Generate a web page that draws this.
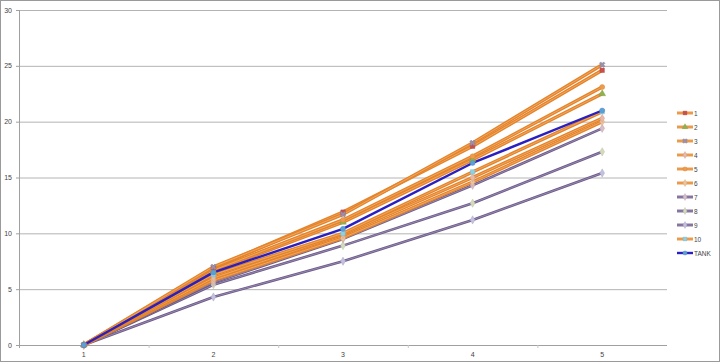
<!DOCTYPE html>
<html>
<head>
<meta charset="utf-8">
<script src="https://cdn.jsdelivr.net/npm/d3@7"></script>
<style>
  body { margin: 0; background: #fff; }
  text { font-family: 'Liberation Sans', Arial, sans-serif; }
</style>
</head>
<body>
<div id="chart"></div>
<script>
const categories = ['1', '2', '3', '4', '5']
const seriesNames = ['1', '2', '3', '4', '5', '6', '7', '8', '9', '10', 'TANK']
const s1 = [0, 6.9, 11.9, 17.8, 24.6]
const s2 = [0, 6.6, 11.0, 16.6, 22.5]
const s3 = [0, 7.0, 11.7, 18.1, 25.1]
const s4 = [0, 6.0, 9.9, 15.0, 20.3]
const s5 = [0, 6.7, 11.2, 16.9, 23.1]
const s6 = [0, 5.8, 9.6, 14.6, 20.0]
const s7 = [0, 5.6, 9.5, 14.3, 19.4]
const s8 = [0, 5.4, 8.9, 12.7, 17.3]
const s9 = [0, 4.3, 7.5, 11.2, 15.4]
const s10 = [0, 6.3, 10.0, 15.5, 20.9]
const tank = [0, 6.5, 10.4, 16.3, 21.0]
const yTicks = [0, 5, 10, 15, 20, 25, 30]

const allValues = [s1, s2, s3, s4, s5, s6, s7, s8, s9, s10, tank]

// look of each series: line colour, inner highlight, marker shape + colour
const orange = '#e5832a'
const orangeLight = '#f6c48a'
const purple = '#6b5a88'
const purpleLight = '#b7a9cc'
const styles = [
  { c: orange, hi: orangeLight, sym: d3.symbolSquare, mc: '#c9504a' },
  { c: orange, hi: orangeLight, sym: d3.symbolTriangle, mc: '#8fb24e' },
  { c: orange, hi: orangeLight, sym: d3.symbolCross, mc: '#9a90ad', x: true },
  { c: orange, hi: orangeLight, sym: d3.symbolDiamond, mc: '#e8b8a8' },
  { c: orange, hi: orangeLight, sym: d3.symbolCircle, mc: '#f09a4a' },
  { c: orange, hi: orangeLight, sym: d3.symbolDiamond, mc: '#eec49a' },
  { c: purple, hi: purpleLight, sym: d3.symbolDiamond, mc: '#d8bcc8' },
  { c: purple, hi: purpleLight, sym: d3.symbolDiamond, mc: '#d4dabc' },
  { c: purple, hi: purpleLight, sym: d3.symbolDiamond, mc: '#c4c0e0' },
  { c: orange, hi: orangeLight, sym: d3.symbolSquare, mc: '#8ad2e4' },
  { c: '#2a1fc0', hi: null, sym: d3.symbolCircle, mc: '#5aa0d8' }
]

const series = seriesNames.map((name, i) => ({
  name: name,
  values: allValues[i],
  style: styles[i]
}))

const width = 720
const height = 364

const svg = d3
  .select('#chart')
  .append('svg')
  .attr('width', width)
  .attr('height', height)

// outer frame
svg
  .append('rect')
  .attr('x', 0.5)
  .attr('y', 0.5)
  .attr('width', width - 1)
  .attr('height', height - 3)
  .attr('fill', 'none')
  .attr('stroke', '#9a9a9a')

const xScale = d3
  .scaleBand()
  .domain(categories)
  .range([19, 667])

const yScale = d3
  .scaleLinear()
  .domain([0, 30])
  .range([345, 10])

const cx = d => xScale(d) + xScale.bandwidth() / 2

// gridlines
svg
  .selectAll('.grid')
  .data(yTicks.filter(d => d > 0))
  .enter()
  .append('line')
  .attr('class', 'grid')
  .attr('x1', 19)
  .attr('x2', 667)
  .attr('y1', d => yScale(d) + 0.5)
  .attr('y2', d => yScale(d) + 0.5)
  .attr('stroke', '#b4b4b4')

// axes
svg
  .append('line')
  .attr('x1', 19.5)
  .attr('x2', 19.5)
  .attr('y1', yScale(30))
  .attr('y2', yScale(0) + 3)
  .attr('stroke', '#a0a0a0')
svg
  .append('line')
  .attr('x1', 16)
  .attr('x2', 667)
  .attr('y1', yScale(0) + 0.5)
  .attr('y2', yScale(0) + 0.5)
  .attr('stroke', '#a0a0a0')

// small y ticks
svg
  .selectAll('.ytick')
  .data(yTicks)
  .enter()
  .append('line')
  .attr('x1', 16)
  .attr('x2', 19)
  .attr('y1', d => yScale(d) + 0.5)
  .attr('y2', d => yScale(d) + 0.5)
  .attr('stroke', '#a0a0a0')

// x category boundary ticks
svg
  .selectAll('.xtick')
  .data(categories.slice(1))
  .enter()
  .append('line')
  .attr('x1', d => xScale(d) + 0.5)
  .attr('x2', d => xScale(d) + 0.5)
  .attr('y1', yScale(0))
  .attr('y2', yScale(0) + 3)
  .attr('stroke', '#c8c8c8')

svg
  .selectAll('.ylabel')
  .data(yTicks)
  .enter()
  .append('text')
  .attr('x', 12)
  .attr('y', d => yScale(d) + 2.5)
  .attr('text-anchor', 'end')
  .attr('font-size', 7)
  .attr('fill', '#444')
  .text(d => d)

svg
  .selectAll('.xlabel')
  .data(categories)
  .enter()
  .append('text')
  .attr('x', d => cx(d))
  .attr('y', 357)
  .attr('text-anchor', 'middle')
  .attr('font-size', 7)
  .attr('fill', '#444')
  .text(d => d)

const line = d3
  .line()
  .x((d, i) => cx(categories[i]))
  .y(d => yScale(d))

// draw lines from bottom-most (last purple) upward, TANK on top
const drawOrder = [8, 7, 6, 5, 3, 9, 1, 4, 0, 2, 10]

drawOrder.forEach(i => {
  const s = series[i]
  svg
    .append('path')
    .datum(s.values)
    .attr('d', line)
    .attr('fill', 'none')
    .attr('stroke', s.style.c)
    .attr('stroke-width', s.style.hi ? (s.style.c === purple ? 2.6 : 3.4) : 2.4)
    .attr('stroke-linejoin', 'round')
  if (s.style.hi) {
    svg
      .append('path')
      .datum(s.values)
      .attr('d', line)
      .attr('fill', 'none')
      .attr('stroke', s.style.hi)
      .attr('stroke-width', 0.8)
      .attr('opacity', 0.7)
  }
})

function drawMarker(g, x, y, st, size) {
  g.append('path')
    .attr('transform', 'translate(' + x + ',' + y + ')' + (st.x ? ' rotate(45)' : ''))
    .attr('d', d3.symbol().type(st.sym).size(size))
    .attr('fill', st.mc)
    .attr('stroke', d3.color(st.mc).darker(0.4))
    .attr('stroke-width', 0.4)
}

drawOrder.forEach(i => {
  const s = series[i]
  s.values.forEach((v, j) => {
    drawMarker(svg, cx(categories[j]), yScale(v), s.style, 20)
  })
})

// legend
const legend = svg.append('g')
series.forEach((s, i) => {
  const y = 113 + i * 14
  legend
    .append('line')
    .attr('x1', 677)
    .attr('x2', 693)
    .attr('y1', y)
    .attr('y2', y)
    .attr('stroke', s.style.c)
    .attr('stroke-width', s.style.hi ? 2.8 : 2.4)
  if (s.style.hi) {
    legend
      .append('line')
      .attr('x1', 677)
      .attr('x2', 693)
      .attr('y1', y)
      .attr('y2', y)
      .attr('stroke', s.style.hi)
      .attr('stroke-width', 0.7)
  }
  drawMarker(legend, 685, y, s.style, 14)
  legend
    .append('text')
    .attr('x', 694)
    .attr('y', y + 2.5)
    .attr('font-size', 6.5)
    .attr('fill', '#444')
    .text(s.name)
})
</script>
</body>
</html>
